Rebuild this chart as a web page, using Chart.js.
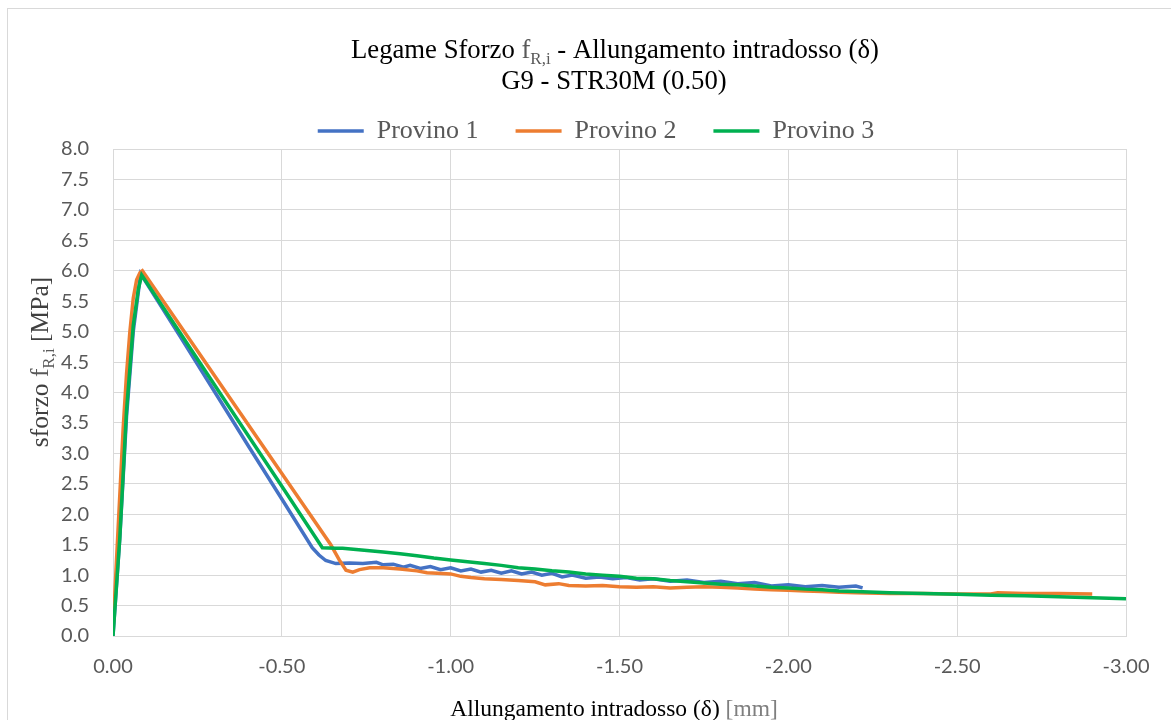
<!DOCTYPE html>
<html>
<head>
<meta charset="utf-8">
<script src="https://cdn.jsdelivr.net/npm/chart.js@4/dist/chart.umd.min.js"></script>
<style>
  html, body { margin: 0; padding: 0; background: #ffffff; }
  #wrap { width: 1171px; height: 720px; position: relative; }
</style>
</head>
<body>
<div id="wrap"><canvas id="chart"></canvas></div>
<script>
// Elongation at the soffit (mm, negative) and stress f_R,i (MPa) per specimen
const provino1X = [0, -0.02, -0.04, -0.06, -0.082, -0.2, -0.3, -0.4, -0.5, -0.59,
  -0.61, -0.63, -0.66, -0.70, -0.74, -0.78, -0.80, -0.83, -0.86, -0.88, -0.91, -0.94, -0.97, -1.00,
  -1.03, -1.06, -1.09, -1.12, -1.15, -1.18, -1.21, -1.24, -1.27, -1.30, -1.33, -1.36,
  -1.40, -1.44, -1.48, -1.52, -1.56, -1.60,
  -1.65, -1.70, -1.75, -1.80, -1.85, -1.90, -1.95, -2.00, -2.05, -2.10, -2.15, -2.20, -2.22];
const provino1Y = [0, 1.6, 3.6, 5.0, 5.95, 4.91, 4.02, 3.13, 2.25, 1.45,
  1.33, 1.24, 1.19, 1.20, 1.19, 1.21, 1.17, 1.18, 1.13, 1.16, 1.11, 1.14, 1.09, 1.12,
  1.07, 1.10, 1.05, 1.08, 1.03, 1.07, 1.02, 1.05, 1.00, 1.03, 0.97, 1.00,
  0.95, 0.97, 0.94, 0.96, 0.92, 0.94,
  0.90, 0.92, 0.88, 0.90, 0.86, 0.88, 0.82, 0.84, 0.81, 0.83, 0.80, 0.82, 0.79];

const provino2X = [0, -0.01, -0.02, -0.03, -0.04, -0.05, -0.06, -0.07, -0.08, -0.087,
  -0.2, -0.335, -0.5, -0.645, -0.67, -0.69, -0.71, -0.73, -0.76, -0.80,
  -0.85, -0.90, -0.93, -0.96, -1.00, -1.03, -1.06, -1.10, -1.15, -1.20,
  -1.25, -1.28, -1.32, -1.35, -1.40, -1.45, -1.50, -1.55, -1.60, -1.65,
  -1.70, -1.75, -1.80, -1.85, -1.90, -1.95, -2.00, -2.05, -2.10, -2.15,
  -2.20, -2.30, -2.40, -2.50, -2.60, -2.62, -2.70, -2.80, -2.90];
const provino2Y = [0.1, 1.2, 2.3, 3.4, 4.3, 5.0, 5.55, 5.85, 5.97, 6.0,
  5.09, 4.0, 2.67, 1.5, 1.25, 1.08, 1.05, 1.09, 1.12, 1.12,
  1.10, 1.07, 1.04, 1.03, 1.02, 0.98, 0.96, 0.94, 0.93, 0.91,
  0.89, 0.84, 0.86, 0.83, 0.82, 0.83, 0.81, 0.80, 0.81, 0.79,
  0.80, 0.81, 0.80, 0.79, 0.77, 0.76, 0.75, 0.74, 0.73, 0.72,
  0.71, 0.70, 0.70, 0.69, 0.69, 0.71, 0.70, 0.70, 0.69];

const provino3X = [0, -0.02, -0.04, -0.06, -0.075, -0.085, -0.2, -0.319, -0.5, -0.62,
  -0.66, -0.68, -0.72, -0.76, -0.80,
  -0.85, -0.90, -0.95, -1.00, -1.05, -1.10, -1.15, -1.20, -1.25, -1.30,
  -1.35, -1.40, -1.45, -1.50, -1.55, -1.60, -1.65, -1.70, -1.75, -1.80,
  -1.85, -1.90, -1.95, -2.00, -2.05, -2.10, -2.15, -2.20,
  -2.30, -2.40, -2.50, -2.60, -2.70, -2.80, -2.90, -3.00];
const provino3Y = [0, 1.6, 3.7, 5.1, 5.7, 5.93, 4.97, 3.97, 2.46, 1.45,
  1.44, 1.44, 1.42, 1.40, 1.38,
  1.35, 1.32, 1.28, 1.25, 1.22, 1.19, 1.16, 1.12, 1.10, 1.07,
  1.05, 1.02, 1.00, 0.98, 0.95, 0.94, 0.91, 0.89, 0.87, 0.85,
  0.84, 0.82, 0.80, 0.79, 0.77, 0.76, 0.74, 0.73,
  0.71, 0.70, 0.685, 0.67, 0.66, 0.645, 0.63, 0.61];

const seriesNames = ['Provino 1', 'Provino 2', 'Provino 3'];
const seriesColors = ['#4472C4', '#ED7D31', '#00B050'];

const titleLine2 = 'G9 - STR30M (0.50)';

const SERIF = '"Liberation Serif", "Times New Roman", serif';
const SANS = 'Lato, "Liberation Sans", sans-serif';

function zip(xs, ys) { return xs.map((x, i) => ({ x: x, y: ys[i] })); }

// Draws a run of text pieces (some as subscripts) centred on cx at baseline y
function drawRich(ctx, pieces, cx, y, size) {
  const subSize = Math.round(size * 0.65);
  let total = 0;
  pieces.forEach(p => {
    ctx.font = (p.sub ? subSize : size) + 'px ' + SERIF;
    p.w = ctx.measureText(p.t).width;
    total += p.w;
  });
  let x = cx - total / 2;
  ctx.textAlign = 'left';
  ctx.textBaseline = 'alphabetic';
  pieces.forEach(p => {
    ctx.font = (p.sub ? subSize : size) + 'px ' + SERIF;
    ctx.fillStyle = p.c;
    ctx.fillText(p.t, x, y + (p.sub ? size * 0.22 : 0));
    x += p.w;
  });
}

const textPlugin = {
  id: 'chartTexts',
  afterLayout(chart) {
    // centre the legend row over the plot rather than the full canvas
    if (chart.legend) {
      chart.legend.left += 33;
      chart.legend.right += 33;
    }
  },
  beforeDraw(chart) {
    const ctx = chart.ctx;
    ctx.save();
    ctx.fillStyle = '#ffffff';
    ctx.fillRect(0, 0, chart.width, chart.height);
    ctx.strokeStyle = '#d9d9d9';
    ctx.lineWidth = 1;
    ctx.strokeRect(7.5, 8.5, chart.width + 20, chart.height + 20);
    ctx.restore();
  },
  afterDraw(chart) {
    const ctx = chart.ctx;
    ctx.save();
    // chart title
    drawRich(ctx, [
      { t: 'Legame Sforzo ', c: '#000000' },
      { t: 'f', c: '#595959' },
      { t: 'R,i', c: '#595959', sub: true },
      { t: ' - Allungamento intradosso (δ)', c: '#000000' }
    ], 615, 58, 26.7);
    drawRich(ctx, [{ t: titleLine2, c: '#000000' }], 614, 89, 26.7);
    // x axis title
    drawRich(ctx, [
      { t: 'Allungamento intradosso (δ) ', c: '#000000' },
      { t: '[mm]', c: '#7f7f7f' }
    ], 614, 716, 23.5);
    // y axis title (rotated)
    ctx.translate(48, 362);
    ctx.rotate(-Math.PI / 2);
    drawRich(ctx, [
      { t: 'sforzo ', c: '#404040' },
      { t: 'f', c: '#595959' },
      { t: 'R,i', c: '#595959', sub: true },
      { t: ' [MPa]', c: '#404040' }
    ], 0, 0, 25.5);
    ctx.restore();
  }
};

const provini = [
  { xs: provino1X, ys: provino1Y },
  { xs: provino2X, ys: provino2Y },
  { xs: provino3X, ys: provino3Y }
];

const datasets = provini.map((p, i) => ({
  label: seriesNames[i],
  data: zip(p.xs, p.ys),
  borderColor: seriesColors[i],
  backgroundColor: seriesColors[i],
  borderWidth: 3.5,
  pointRadius: 0,
  pointStyle: 'line',
  tension: 0,
  fill: false,
  order: 2 - i
}));

new Chart(document.getElementById('chart'), {
  type: 'line',
  data: { datasets: datasets },
  plugins: [textPlugin],
  options: {
    responsive: true,
    maintainAspectRatio: false,
    animation: false,
    layout: { padding: { top: 81, left: 0, right: 45, bottom: 0 } },
    plugins: {
      title: { display: false },
      tooltip: { enabled: false },
      legend: {
        position: 'top',
        align: 'center',
        maxHeight: 68,
        labels: {
          usePointStyle: true,
          pointStyle: 'line',
          pointStyleWidth: 46,
          padding: 37,
          color: '#595959',
          font: { family: SERIF, size: 26 },
          sort: (a, b) => a.datasetIndex - b.datasetIndex
        }
      }
    },
    scales: {
      x: {
        type: 'linear',
        reverse: true,
        min: -3,
        max: 0,
        afterFit: s => { s.height = 84; },
        ticks: {
          stepSize: 0.5,
          padding: 19,
          color: '#595959',
          font: { family: SANS, size: 20 },
          callback: v => Number(v).toFixed(2),
          maxRotation: 0
        },
        grid: { color: '#d9d9d9', lineWidth: 1, drawTicks: false },
        border: { color: '#d9d9d9', width: 1 }
      },
      y: {
        min: 0,
        max: 8,
        afterFit: s => { s.width = 113; },
        ticks: {
          stepSize: 0.5,
          padding: 24,
          color: '#595959',
          font: { family: SANS, size: 20 },
          callback: v => Number(v).toFixed(1)
        },
        grid: { color: '#d9d9d9', lineWidth: 1, drawTicks: false },
        border: { color: '#d9d9d9', width: 1 }
      }
    }
  }
});
</script>
</body>
</html>
